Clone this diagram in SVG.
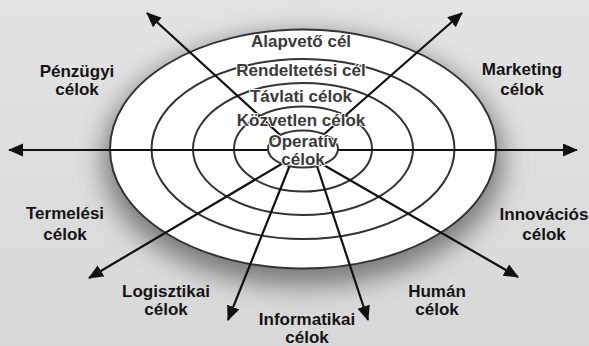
<svg xmlns="http://www.w3.org/2000/svg" width="589" height="346" viewBox="0 0 589 346">
  <defs>
    <linearGradient id="bg" x1="0" y1="0" x2="0" y2="1">
      <stop offset="0" stop-color="#e3e3e3"/>
      <stop offset="1" stop-color="#d8d8d8"/>
    </linearGradient>
    <filter id="soft" x="-30%" y="-30%" width="160%" height="160%">
      <feGaussianBlur stdDeviation="13"/>
    </filter>
    <marker id="head" markerUnits="userSpaceOnUse" markerWidth="16" markerHeight="14" refX="14" refY="6.5" orient="auto">
      <path d="M0,0 L15,6.5 L0,13 Z" fill="#111"/>
    </marker>
    <style>
      .ring { fill: #fff; stroke: #333; stroke-width: 2; }
      .ring-line { fill: none; stroke: #333; stroke-width: 2; }
      .arrow { fill: none; stroke: #111; stroke-width: 2.2; marker-end: url(#head); }
      .outer { font-family: "Liberation Sans", Arial, sans-serif; font-weight: bold; font-size: 17px; fill: #141414; text-anchor: middle; }
      .inner { font-family: "Liberation Sans", Arial, sans-serif; font-weight: bold; font-size: 17px; fill: #3a3a3a; text-anchor: middle; stroke: #fff; stroke-width: 2; paint-order: stroke; stroke-linejoin: round; }
    </style>
  </defs>

  <!-- backdrop and soft shadow around the target -->
  <rect x="0" y="0" width="589" height="346" fill="url(#bg)"/>
  <ellipse cx="303" cy="160" rx="200" ry="126" fill="#5a5a5a" opacity="0.75" filter="url(#soft)"/>

  <!-- concentric goal rings -->
  <g id="rings">
    <ellipse class="ring" cx="303" cy="149" rx="193" ry="119.5"/>
    <ellipse class="ring-line" cx="303" cy="149" rx="151.5" ry="90"/>
    <ellipse class="ring-line" cx="303" cy="149" rx="110" ry="66"/>
    <ellipse class="ring-line" cx="303" cy="149" rx="69" ry="42.5"/>
  </g>

  <!-- radiating arrows -->
  <g id="connectors">
    <line class="arrow" x1="280" y1="150" x2="9" y2="150"/>
    <line class="arrow" x1="326" y1="150" x2="577" y2="150"/>
    <line class="arrow" x1="290" y1="144" x2="147" y2="13"/>
    <line class="arrow" x1="313" y1="144" x2="462" y2="13"/>
    <line class="arrow" x1="290" y1="159" x2="89" y2="278"/>
    <line class="arrow" x1="292" y1="160" x2="228" y2="320"/>
    <line class="arrow" x1="315" y1="160" x2="368" y2="320"/>
    <line class="arrow" x1="315" y1="160" x2="518" y2="277"/>
  </g>

  <!-- innermost ring drawn over the arrow roots -->
  <g id="core">
    <ellipse class="ring" cx="303" cy="149" rx="35" ry="18.5"/>
  </g>

  <!-- ring labels -->
  <g id="ring-labels">
    <text class="inner" x="301" y="47">Alapvető cél</text>
    <text class="inner" x="301" y="76">Rendeltetési cél</text>
    <text class="inner" x="301" y="102">Távlati célok</text>
    <text class="inner" x="301" y="126">Közvetlen célok</text>
    <text class="inner" x="303" y="147">Operatív</text>
    <text class="inner" x="303" y="165">célok</text>
  </g>

  <!-- functional goal labels -->
  <g id="penzugyi"><text class="outer" x="77" y="77">Pénzügyi</text><text class="outer" x="77" y="95">célok</text></g>
  <g id="marketing"><text class="outer" x="522" y="75">Marketing</text><text class="outer" x="522" y="95">célok</text></g>
  <g id="termelesi"><text class="outer" x="65" y="219">Termelési</text><text class="outer" x="65" y="240">célok</text></g>
  <g id="innovacios"><text class="outer" x="544" y="220">Innovációs</text><text class="outer" x="544" y="240">célok</text></g>
  <g id="logisztikai"><text class="outer" x="166" y="297">Logisztikai</text><text class="outer" x="166" y="315">célok</text></g>
  <g id="human"><text class="outer" x="437" y="297">Humán</text><text class="outer" x="437" y="315">célok</text></g>
  <g id="informatikai"><text class="outer" x="307" y="325">Informatikai</text><text class="outer" x="307" y="343">célok</text></g>
</svg>
